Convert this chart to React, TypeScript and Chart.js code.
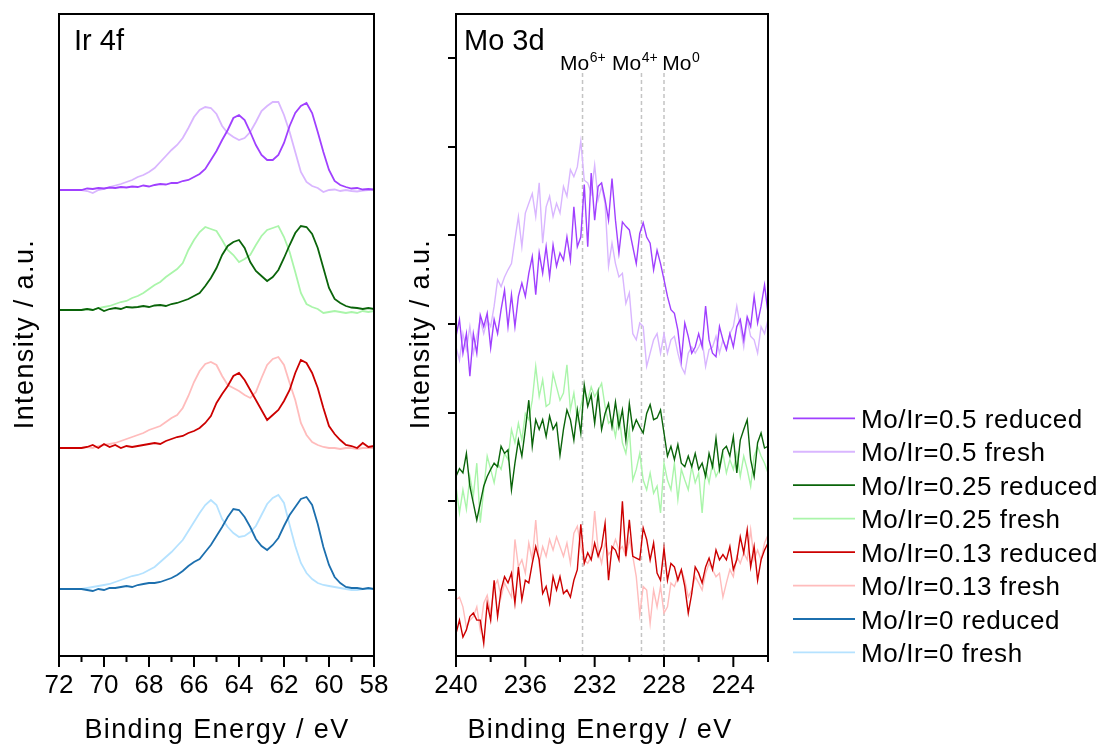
import React, { useEffect, useRef } from 'react';
import { Chart, registerables } from 'chart.js';

Chart.register(...registerables);

const FONT = '"Liberation Sans", Arial, Helvetica, sans-serif';

// ---------- series meta ----------
const seriesLabels = [
  'Mo/Ir=0.5 reduced',
  'Mo/Ir=0.5 fresh',
  'Mo/Ir=0.25 reduced',
  'Mo/Ir=0.25 fresh',
  'Mo/Ir=0.13 reduced',
  'Mo/Ir=0.13 fresh',
  'Mo/Ir=0 reduced',
  'Mo/Ir=0 fresh',
];
const seriesColors = [
  '#a040ff',
  '#d9b6ff',
  '#0a640a',
  '#aaf5aa',
  '#cc0000',
  '#ffbcbc',
  '#1c6fae',
  '#b5e2ff',
];

// ---------- Ir 4f panel ----------
const irEnergy = [
  72, 71.75, 71.5, 71.25, 71, 70.75, 70.5, 70.25, 70, 69.75,
  69.5, 69.25, 69, 68.75, 68.5, 68.25, 68, 67.75, 67.5, 67.25,
  67, 66.75, 66.5, 66.25, 66, 65.75, 65.5, 65.25, 65, 64.75,
  64.5, 64.25, 64, 63.75, 63.5, 63.25, 63, 62.75, 62.5, 62.25,
  62, 61.75, 61.5, 61.25, 61, 60.75, 60.5, 60.25, 60, 59.75,
  59.5, 59.25, 59, 58.75, 58.5, 58.25, 58,
];
const ir05Reduced = [
  0, 0, 0, 0, 0, 1.5, 1, 2, 1.5, 2.5,
  2, 3, 2.5, 3.5, 3, 4.5, 3.5, 5, 6, 5.5,
  7, 7, 9, 10, 13, 16, 21, 30, 39, 50,
  60, 72, 75, 70, 58, 45, 35, 30, 30, 35,
  47, 64, 77, 84, 87, 77, 58, 38, 20, 9,
  5, 3, 1.5, 2, 0.5, 1, 0.5,
];
const ir05Fresh = [
  0, 0, 0, 0, 0, -1, -3, 0, 1, 3,
  4.5, 6, 8, 10, 13, 15, 18, 22, 28, 34,
  40, 45, 52, 62, 73, 80, 83, 82, 76, 64,
  57, 53, 50, 52, 58, 68, 79, 84, 88, 88,
  75, 58, 38, 18, 8, 4, 2, -2, 0, 0.5,
  -1, 0, -1, -1.5, -0.5, 0, 0,
];
const ir025Reduced = [
  0, 0, 0, 0, 0, 1, 0, 2, -1, 1,
  2, 1, 3, 2.5, 3, 4, 3, 4.5, 5, 4,
  6, 7, 9, 11, 14, 17, 24, 32, 42, 55,
  64, 68, 70, 62, 48, 39, 34, 29, 33, 40,
  52, 65, 77, 84, 83, 76, 62, 42, 22, 11,
  7, 4, 2.5, 2, 1, 2, 1,
];
const ir025Fresh = [
  0, 0, 0, 0, 0, 1, 0, 2, 3, 4,
  6, 8, 9, 12, 14, 17, 21, 25, 28, 33,
  37, 41, 47, 60, 70, 78, 83, 81, 79, 70,
  60, 55, 48, 51, 55, 65, 74, 80, 82, 84,
  73, 58, 38, 17, 6, 3, 1, -3, -2, -1,
  -2, -3, -2, -3, -1, -2, -1,
];
const ir013Reduced = [
  0, 0, 0, 0, 0, 1, 3, 0, 4, 1,
  3, 0, 2, 1, 2, 3, 4, 5, 4, 7,
  9, 11, 12, 15, 17, 20, 25, 32, 45, 54,
  62, 72, 75, 68, 58, 48, 38, 28, 33, 38,
  47, 58, 75, 88, 85, 75, 60, 40, 22, 14,
  8, 3, 2, 0, 5, 1, 2,
];
const ir013Fresh = [
  0, 0, 0, 0, 0, 1, 0, 2, 3, 4,
  5, 7, 9, 11, 13, 15, 18, 20, 22, 26,
  30, 33, 40, 52, 66, 77, 84, 86, 83, 72,
  63, 60, 57, 53, 50, 56, 70, 83, 89, 91,
  83, 65, 48, 25, 13, 6, 3, 1, 0, 0,
  -1, 0, 0, -1, 0, 0, 0,
];
const ir0Reduced = [
  0, 0, 0, 0, 0, -1, -2, 0, -1, 1,
  1, 2, 3, 2, 4, 5, 6, 6, 7, 9,
  11, 14, 18, 23, 27, 30, 37, 44, 53, 62,
  72, 80, 79, 72, 62, 50, 43, 39, 44, 51,
  63, 74, 82, 90, 92, 84, 65, 42, 24, 12,
  6, 2, 1, 1, 0, 1, 0,
];
const ir0Fresh = [
  0, 0, 0, 0, 0, 1, 2, 3, 4, 5,
  7, 9, 11, 13, 14, 16, 19, 22, 27, 32,
  37, 43, 49, 58, 67, 76, 84, 89, 84, 70,
  62, 56, 52, 53, 57, 63, 74, 85, 91, 94,
  86, 64, 43, 26, 16, 10, 6, 4, 3, 2,
  1, 0, -1, -1, 0, 0, 0,
];
const irSeries = [
  ir05Reduced, ir05Fresh, ir025Reduced, ir025Fresh,
  ir013Reduced, ir013Fresh, ir0Reduced, ir0Fresh,
];
const irOffsets = [466, 466, 346, 346, 208, 208, 67, 67];

// ---------- Mo 3d panel ----------
const moEnergy = [
  240, 239.8, 239.6, 239.4, 239.2, 239, 238.8, 238.6, 238.4, 238.2,
  238, 237.8, 237.6, 237.4, 237.2, 237, 236.8, 236.6, 236.4, 236.2,
  236, 235.8, 235.6, 235.4, 235.2, 235, 234.8, 234.6, 234.4, 234.2,
  234, 233.8, 233.6, 233.4, 233.2, 233, 232.8, 232.6, 232.4, 232.2,
  232, 231.8, 231.6, 231.4, 231.2, 231, 230.8, 230.6, 230.4, 230.2,
  230, 229.8, 229.6, 229.4, 229.2, 229, 228.8, 228.6, 228.4, 228.2,
  228, 227.8, 227.6, 227.4, 227.2, 227, 226.8, 226.6, 226.4, 226.2,
  226, 225.8, 225.6, 225.4, 225.2, 225, 224.8, 224.6, 224.4, 224.2,
  224, 223.8, 223.6, 223.4, 223.2, 223, 222.8, 222.6, 222.4, 222.2,
  222,
];
const mo05Reduced = [
  2.86, 3.05, 2.67, 2.89, 2.41, 2.89, 2.67, 3.10, 2.97, 3.12,
  2.73, 3.05, 2.89, 3.16, 3.38, 2.97, 3.33, 2.97, 3.31, 3.46,
  3.31, 3.57, 3.76, 3.33, 3.80, 3.57, 3.87, 3.53, 3.89, 3.65,
  3.80, 3.72, 3.98, 3.72, 4.32, 3.87, 3.98, 4.57, 3.87, 4.70,
  4.17, 4.55, 4.59, 4.40, 4.17, 4.64, 4.17, 3.80, 4.15, 4.10,
  4.06, 3.87, 3.68, 4.02, 4.14, 3.98, 3.91, 3.61, 3.83, 3.68,
  3.50, 3.31, 3.16, 3.12, 2.93, 2.59, 3.01, 2.86, 2.67, 2.74,
  2.89, 2.74, 3.20, 2.82, 2.67, 2.63, 2.97, 2.82, 2.71, 2.89,
  2.74, 2.97, 3.05, 2.82, 3.08, 2.97, 3.31, 3.01, 3.20, 3.44,
  3.12,
];
const mo05Fresh = [
  2.74, 2.59, 2.89, 2.71, 2.97, 2.67, 2.86, 3.05, 2.89, 3.05,
  2.97, 3.20, 3.50, 3.42, 3.53, 3.61, 3.68, 3.95, 4.21, 3.87,
  4.25, 4.36, 4.47, 4.21, 4.59, 3.91, 4.32, 4.44, 4.21, 4.36,
  4.25, 4.55, 4.44, 4.74, 4.66, 4.77, 5.06, 4.62, 4.59, 4.47,
  4.79, 4.40, 4.55, 4.36, 3.65, 3.91, 3.68, 3.53, 3.57, 3.23,
  3.35, 2.89, 2.82, 3.01, 2.97, 2.52, 2.67, 2.82, 2.89, 2.67,
  2.89, 2.67, 2.82, 2.86, 2.67, 2.52, 2.44, 2.67, 2.74, 2.67,
  2.74, 2.82, 2.52, 2.71, 2.74, 2.86, 2.67, 2.82, 2.71, 2.89,
  2.97, 3.20, 2.97, 2.74, 3.05, 2.86, 2.82, 2.67, 2.97, 2.89,
  3.05,
];
const mo025Reduced = [
  1.28, 1.37, 1.32, 1.54, 1.17, 0.98, 0.79, 0.98, 1.17, 1.28,
  1.36, 1.43, 1.39, 1.62, 1.54, 1.58, 1.13, 1.43, 1.69, 1.51,
  1.81, 2.14, 1.62, 1.92, 1.81, 1.92, 1.73, 1.96, 1.81, 1.88,
  1.52, 1.81, 2.03, 1.92, 1.69, 2.03, 1.77, 2.31, 2.07, 2.20,
  1.88, 2.22, 1.81, 1.99, 2.10, 1.84, 2.12, 1.84, 2.03, 1.69,
  2.10, 1.81, 1.92, 1.84, 1.77, 1.99, 2.09, 1.92, 1.94, 2.03,
  1.77, 1.51, 1.62, 1.47, 1.64, 1.43, 1.39, 1.51, 1.39, 1.54,
  1.36, 1.43, 1.28, 1.54, 1.39, 1.71, 1.36, 1.58, 1.62, 1.51,
  1.73, 1.32, 1.69, 1.81, 1.92, 1.47, 1.28, 1.66, 1.77, 1.60,
  1.62,
];
const mo025Fresh = [
  1.17, 0.87, 1.13, 0.91, 1.28, 1.06, 1.43, 0.76, 1.13, 1.51,
  1.36, 1.21, 1.43, 1.36, 1.54, 1.47, 1.81, 1.66, 1.88, 1.69,
  1.99, 1.92, 2.14, 2.52, 2.18, 2.37, 2.07, 2.10, 2.44, 2.29,
  2.14, 2.22, 2.54, 2.03, 2.22, 1.92, 2.07, 2.25, 2.14, 2.29,
  2.18, 2.25, 2.33, 2.07, 1.88, 1.92, 1.73, 1.99, 1.66, 1.54,
  1.81, 1.24, 1.36, 1.54, 1.24, 1.13, 1.32, 1.09, 1.17, 0.87,
  1.43, 1.24, 1.13, 1.43, 1.02, 1.36, 1.24, 1.13, 1.39, 1.21,
  1.32, 0.87, 1.36, 1.21, 1.43, 1.28, 1.36, 1.54, 1.32, 1.47,
  1.36, 1.54, 1.28, 1.51, 1.36, 1.17, 1.51, 1.62, 1.51, 1.43,
  1.32,
];
const mo013Reduced = [
  -0.49, -0.34, -0.53, -0.45, -0.30, -0.26, -0.34, -0.34, -0.60, -0.15,
  -0.34, 0.11, -0.30, 0.00, 0.15, 0.08, 0.19, -0.15, 0.26, -0.11,
  0.11, 0.08, 0.30, 0.49, 0.34, -0.04, 0.04, -0.15, 0.15, 0.00,
  0.15, -0.04, 0.00, -0.08, 0.11, 0.23, 0.74, 0.30, 0.42, 0.34,
  0.53, 0.38, 0.49, 0.75, 0.11, 0.49, 0.45, 0.34, 1.00, 0.38,
  0.79, 0.38, 0.36, 0.34, 0.70, 0.57, 0.34, 0.53, 0.19, 0.11,
  0.47, 0.11, 0.30, 0.26, 0.11, 0.23, 0.04, -0.26, -0.04, 0.26,
  0.19, 0.08, 0.26, 0.36, 0.23, 0.45, 0.34, 0.40, 0.34, 0.49,
  0.23, 0.34, 0.60, 0.42, 0.68, 0.26, 0.49, 0.11, 0.34, 0.45,
  0.53,
];
const mo013Fresh = [
  -0.11, -0.08, -0.19, -0.42, -0.34, -0.30, -0.19, -0.45, -0.15, -0.06,
  -0.26, 0.04, 0.11, -0.08, 0.08, 0.00, -0.08, 0.57, 0.26, 0.34,
  0.19, 0.53, 0.34, 0.79, 0.30, 0.49, 0.38, 0.57, 0.45, 0.60,
  0.49, 0.38, 0.53, 0.30, 0.64, 0.72, 0.49, 0.34, 0.30, 0.38,
  0.89, 0.45, 0.30, 0.53, 0.40, 0.45, 0.57, 0.45, 0.49, 0.38,
  0.57, 0.38, 0.15, -0.28, 0.04, 0.00, -0.38, 0.00, -0.19, 0.04,
  -0.26, -0.19, 0.08, 0.04, 0.15, 0.23, 0.11, -0.08, 0.00, 0.15,
  0.08, 0.00, 0.19, 0.30, 0.23, 0.15, 0.19, -0.08, 0.08, 0.23,
  0.15, 0.38, 0.30, 0.42, 0.34, 0.68, 0.34, 0.45, 0.34, 0.53,
  0.62,
];
const moSeries = [mo05Reduced, mo05Fresh, mo025Reduced, mo025Fresh, mo013Reduced, mo013Fresh];

// reference binding energies (dashed lines) and their labels
const moRefEnergies = [232.7, 229.3, 228.0];
const moRefBase = ['Mo', 'Mo', 'Mo'];
const moRefSup = ['6+', '4+', '0'];
const moRefLabelStart = [234.0, 231.0, 228.1];
const moRefTop = 5.83;

// axis tick settings
const irTickMajor = 2;
const irTickMinor = 1;
const moTickMajor = 4;
const moTickMinor = 2;

const panelTitles = ['Ir 4f', 'Mo 3d'];
const xTitle = 'Binding Energy / eV';
const yTitle = 'Intensity / a.u.';

type PanelCfg = {
  minorStep: number;
  majorStep: number;
  yTicks: boolean;
  title: string;
  titleX: number;
  xTitleX: number;
  yTitleX: number;
  refs: boolean;
  legend: boolean;
};

function makeAxesPlugin(cfg: PanelCfg) {
  return {
    id: 'xpsAxes',
    beforeDatasetsDraw(chart: any) {
      if (!cfg.refs) return;
      const { ctx, chartArea: a, scales } = chart;
      const x = scales.x;
      const y = scales.y;
      ctx.save();
      ctx.strokeStyle = '#c4c4c4';
      ctx.lineWidth = 1.5;
      ctx.setLineDash([4, 3]);
      moRefEnergies.forEach((e) => {
        const px = x.getPixelForValue(e);
        ctx.beginPath();
        ctx.moveTo(px, y.getPixelForValue(moRefTop));
        ctx.lineTo(px, a.bottom);
        ctx.stroke();
      });
      ctx.restore();
    },
    afterDraw(chart: any) {
      const { ctx, chartArea: a, scales } = chart;
      const x = scales.x;
      const y = scales.y;
      ctx.save();
      ctx.setLineDash([]);
      ctx.strokeStyle = '#000';
      ctx.lineWidth = 2;
      ctx.strokeRect(a.left, a.top, a.right - a.left, a.bottom - a.top);
      const n = Math.round((x.max - x.min) / cfg.minorStep);
      for (let i = 0; i <= n; i++) {
        const v = x.min + i * cfg.minorStep;
        const major = Math.abs(Math.round(v / cfg.majorStep) * cfg.majorStep - v) < 1e-6;
        const px = x.getPixelForValue(v);
        ctx.beginPath();
        ctx.moveTo(px, a.bottom);
        ctx.lineTo(px, a.bottom + (major ? 11 : 6));
        ctx.stroke();
      }
      if (cfg.yTicks) {
        for (let v = Math.ceil(y.min); v <= y.max; v++) {
          const py = Math.round(y.getPixelForValue(v));
          ctx.beginPath();
          ctx.moveTo(a.left, py);
          ctx.lineTo(a.left - 8, py);
          ctx.stroke();
        }
      }
      ctx.fillStyle = '#000';
      ctx.textBaseline = 'alphabetic';
      // panel title
      ctx.textAlign = 'left';
      ctx.font = `29px ${FONT}`;
      ctx.fillText(cfg.title, cfg.titleX, 50);
      // reference labels
      if (cfg.refs) {
        moRefBase.forEach((b, i) => {
          const px = x.getPixelForValue(moRefLabelStart[i]);
          ctx.font = `21px ${FONT}`;
          ctx.fillText(b, px, 69.5);
          const w = ctx.measureText(b).width;
          ctx.font = `14px ${FONT}`;
          ctx.fillText(moRefSup[i], px + w + 0.5, 61.5);
        });
      }
      // axis titles
      (ctx as any).letterSpacing = '1.4px';
      ctx.font = `27px ${FONT}`;
      ctx.textAlign = 'center';
      ctx.fillText(xTitle, cfg.xTitleX, 738);
      ctx.save();
      ctx.translate(cfg.yTitleX, 334);
      ctx.rotate(-Math.PI / 2);
      ctx.fillText(yTitle, 0, 0);
      ctx.restore();
      (ctx as any).letterSpacing = '0px';
      // legend
      if (cfg.legend) {
        ctx.textAlign = 'left';
        (ctx as any).letterSpacing = '0.6px';
        seriesLabels.forEach((lab, i) => {
          const yy = 418.3 + i * 33.45;
          ctx.strokeStyle = seriesColors[i];
          ctx.lineWidth = 1.8;
          ctx.beginPath();
          ctx.moveTo(793, yy);
          ctx.lineTo(855, yy);
          ctx.stroke();
          ctx.fillStyle = '#000';
          ctx.font = `26px ${FONT}`;
          ctx.fillText(lab, 861, yy + 9.7);
        });
        (ctx as any).letterSpacing = '0px';
      }
      ctx.restore();
    },
  };
}

function tickFont() {
  return { family: FONT, size: 26 };
}

export default function App() {
  const leftRef = useRef<HTMLCanvasElement | null>(null);
  const rightRef = useRef<HTMLCanvasElement | null>(null);

  useEffect(() => {
    if (!leftRef.current || !rightRef.current) return;

    const irDatasets = irSeries.map((vals, k) => ({
      label: seriesLabels[k],
      data: irEnergy.map((e, i) => ({ x: e, y: irOffsets[k] + vals[i] })),
      borderColor: seriesColors[k],
      backgroundColor: seriesColors[k],
      borderWidth: 1.8,
      pointRadius: 0,
      tension: 0,
      fill: false,
    }));

    const moDatasets = moSeries.map((vals, k) => ({
      label: seriesLabels[k],
      data: moEnergy.map((e, i) => ({ x: e, y: vals[i] })),
      borderColor: seriesColors[k],
      backgroundColor: seriesColors[k],
      borderWidth: 1.4,
      pointRadius: 0,
      tension: 0,
      fill: false,
    }));

    const left = new Chart(leftRef.current, {
      type: 'line',
      data: { datasets: irDatasets as any },
      options: {
        responsive: false,
        animation: false,
        events: [],
        devicePixelRatio: 1,
        layout: { padding: { left: 59, right: 728, top: 14, bottom: 0 } },
        plugins: { legend: { display: false }, tooltip: { enabled: false } },
        scales: {
          x: {
            type: 'linear',
            reverse: true,
            min: 58,
            max: 72,
            afterFit: (s: any) => {
              s.height = 91;
            },
            grid: { display: false, drawTicks: true, tickLength: 11 },
            border: { display: false },
            ticks: {
              stepSize: irTickMajor,
              color: '#000',
              font: tickFont(),
              padding: 3,
              maxRotation: 0,
              autoSkip: false,
            },
          },
          y: { type: 'linear', display: false, min: 0, max: 642 },
        },
      } as any,
      plugins: [
        makeAxesPlugin({
          minorStep: irTickMinor,
          majorStep: irTickMajor,
          yTicks: false,
          title: panelTitles[0],
          titleX: 74,
          xTitleX: 217,
          yTitleX: 33,
          refs: false,
          legend: false,
        }),
      ],
    });

    const right = new Chart(rightRef.current, {
      type: 'line',
      data: { datasets: moDatasets as any },
      options: {
        responsive: false,
        animation: false,
        events: [],
        devicePixelRatio: 1,
        layout: { padding: { left: 456, right: 334, top: 14, bottom: 0 } },
        plugins: { legend: { display: false }, tooltip: { enabled: false } },
        scales: {
          x: {
            type: 'linear',
            reverse: true,
            min: 222,
            max: 240,
            afterFit: (s: any) => {
              s.height = 91;
            },
            grid: { display: false, drawTicks: true, tickLength: 11 },
            border: { display: false },
            ticks: {
              stepSize: moTickMajor,
              includeBounds: false,
              color: '#000',
              font: tickFont(),
              padding: 3,
              maxRotation: 0,
              autoSkip: false,
            },
          },
          y: { type: 'linear', display: false, min: -0.744, max: 6.494 },
        },
      } as any,
      plugins: [
        makeAxesPlugin({
          minorStep: moTickMinor,
          majorStep: moTickMajor,
          yTicks: true,
          title: panelTitles[1],
          titleX: 464,
          xTitleX: 600,
          yTitleX: 429,
          refs: true,
          legend: true,
        }),
      ],
    });

    return () => {
      left.destroy();
      right.destroy();
    };
  }, []);

  return (
    <div
      style={{
        position: 'fixed',
        left: 0,
        top: 0,
        width: 1102,
        height: 747,
        background: '#fff',
        overflow: 'hidden',
      }}
    >
      <canvas ref={leftRef} width={1102} height={747} style={{ position: 'absolute', left: 0, top: 0 }} />
      <canvas ref={rightRef} width={1102} height={747} style={{ position: 'absolute', left: 0, top: 0 }} />
    </div>
  );
}
